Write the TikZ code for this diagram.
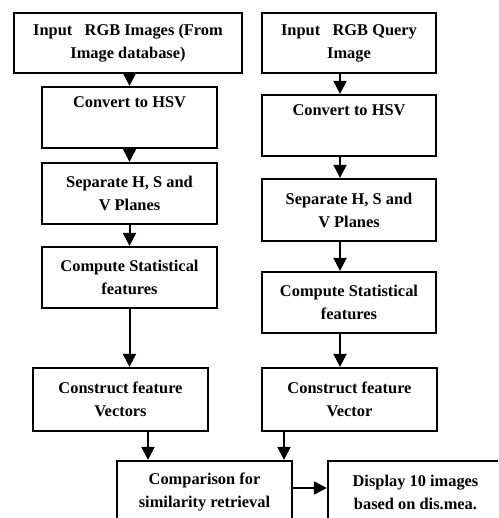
\documentclass[tikz,border=0pt]{standalone}
\usepackage{fontspec}
\setmainfont{Liberation Serif}
\usetikzlibrary{arrows.meta,calc}

\begin{document}
\begin{tikzpicture}[x=1pt,y=-1pt]
    \tikzset{stage/.style={
        draw, line width=2.2pt, align=center, inner sep=0pt,
        font=\bfseries\fontsize{16.4}{23}\selectfont
      },
      narrow/.style={stage, minimum width=175pt, minimum height=61pt},
      flow/.style={line width=2pt, -{Triangle[length=13pt,width=13pt]}}
    }

    \useasboundingbox (0,0) rectangle (498,518);
    \fill[white] (0,0) rectangle (498,518);
    \clip (0,0) rectangle (498,518);

    \node[stage, minimum width=228pt, minimum height=60pt] (inL) at (128,43)
      {Input~~~RGB Images (From\\Image database)};
    \node[narrow] (hsvL) at (129.5,117.5) {Convert to HSV\\\strut};
    \node[narrow] (sepL) at (129.5,193.5) {Separate H, S and\\V Planes};
    \node[narrow] (statL) at (129.5,277.5) {Compute Statistical\\features};
    \node[narrow, minimum height=63pt] (vecL) at (120.5,399.5) {Construct feature\\Vectors};

    \node[stage, minimum width=174pt, minimum height=60pt] (inR) at (349,43)
      {Input~~~RGB Query\\Image};
    \node[narrow, minimum width=174pt] (hsvR) at (349,125.5) {Convert to HSV\\\strut};
    \node[narrow, minimum width=174pt, minimum height=62pt] (sepR) at (349,210) {Separate H, S and\\V Planes};
    \node[narrow, minimum width=174pt] (statR) at (349,302.5) {Compute Statistical\\features};
    \node[narrow, minimum height=63pt] (vecR) at (349.5,399.5) {Construct feature\\Vector};

    \node[narrow, minimum height=62pt] (cmp) at (204.5,492) {Comparison for\\similarity retrieval};
    \node[narrow, minimum height=62pt] (disp) at (415.5,492) {Display 10 images\\based on dis.mea.};

    \draw[flow] (inL.south -| hsvL.north) -- (hsvL.north);
    \draw[flow] (hsvL) -- (sepL);
    \draw[flow] (sepL) -- (statL);
    \draw[flow] (statL.south) -- (statL.south |- vecL.north);
    \draw[flow] ([xshift=27.5pt]vecL.south) -- ([xshift=27.5pt]vecL.south |- cmp.north);

    \draw[flow] ([xshift=-9pt]inR.south) -- ([xshift=-9pt]inR.south |- hsvR.north);
    \draw[flow] ([xshift=-9pt]hsvR.south) -- ([xshift=-9pt]hsvR.south |- sepR.north);
    \draw[flow] ([xshift=-9pt]sepR.south) -- ([xshift=-9pt]sepR.south |- statR.north);
    \draw[flow] ([xshift=-9pt]statR.south) -- ([xshift=-9pt]statR.south |- vecR.north);
    \draw[flow] ([xshift=-65.5pt]vecR.south) -- ([xshift=-65.5pt]vecR.south |- cmp.north);

    \draw[flow] ([yshift=4pt]cmp.east) -- ([yshift=4pt]cmp.east -| disp.west);
  \end{tikzpicture}
\end{document}
